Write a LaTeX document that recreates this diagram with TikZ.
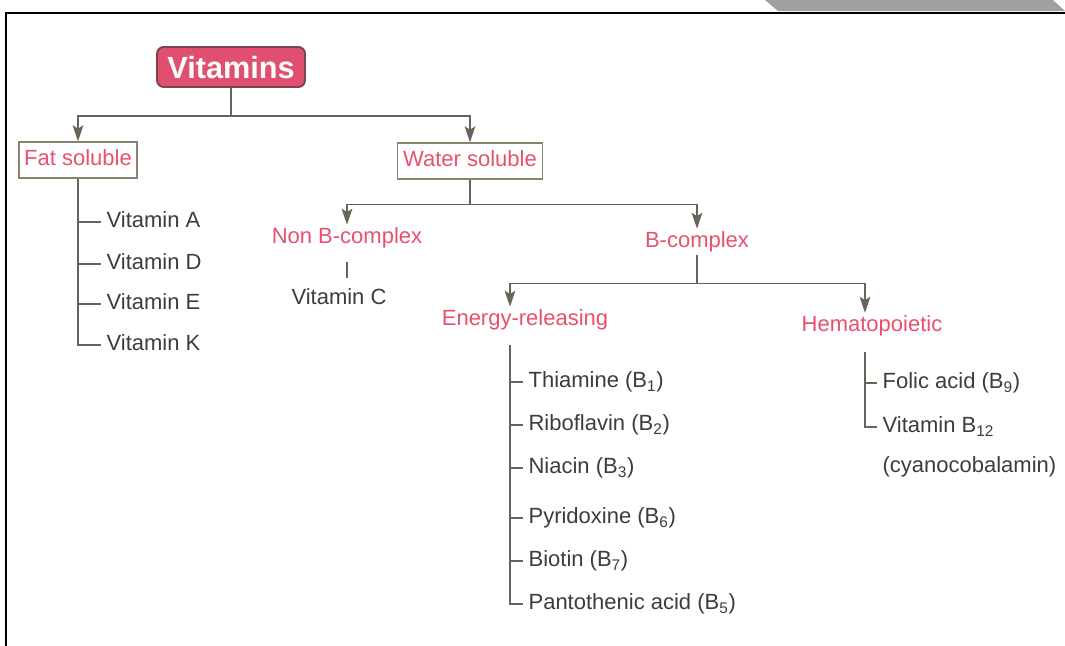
\documentclass[tikz,border=0pt]{standalone}
\usepackage{fontspec}
\setmainfont{Liberation Sans}
\usetikzlibrary{arrows.meta}
\definecolor{vitpink}{RGB}{232,80,110}
\definecolor{vitred}{RGB}{224,78,112}
\definecolor{vitdark}{RGB}{120,70,75}
\definecolor{linegray}{RGB}{105,100,90}
\definecolor{boxgray}{RGB}{140,128,110}
\definecolor{inkgray}{RGB}{62,60,57}
\definecolor{tabgray}{RGB}{160,160,160}

\begin{document}
\begin{tikzpicture}[x=0.75pt,y=-0.75pt,
  every node/.style={font=\fontsize{16.5}{19}\selectfont, text height=12pt, text depth=3.5pt, yshift=-1.5pt},
  root/.style={draw=vitdark, line width=1.4pt, fill=vitred, rounded corners=5pt, text=white,
    font=\fontsize{23}{26}\selectfont\bfseries, text height=17pt, text depth=0pt,
    minimum width=111pt, minimum height=30pt, inner sep=0pt, yshift=1.5pt},
  cat/.style={draw=boxgray, line width=1pt, text=vitpink, minimum height=27pt, inner xsep=4pt},
  sub/.style={text=vitpink, inner sep=2pt},
  item/.style={text=inkgray, anchor=west, inner xsep=4pt, inner ysep=2pt},
  link/.style={draw=linegray, line width=1.1pt},
  arr/.style={link, -{Stealth[length=12pt,width=8pt,inset=2.5pt]}}]

\useasboundingbox (0,0) rectangle (1065,646);

% page frame and tab
\fill[tabgray] (765,0) -- (1053,0) -- (1065,11) -- (778,11) -- cycle;
\draw[line width=2.2pt] (6,646) -- (6,13) -- (1065,13);

% main nodes
\node[root] (vit) at (231,67) {Vitamins};
\node[cat] (fat) at (78,158) {Fat soluble};
\node[cat] (water) at (470,159) {Water soluble};
\node[sub] (nonb) at (347,236) {Non B-complex};
\node[sub] (bcomp) at (697,240) {B-complex};
\node[sub] (energy) at (525,318) {Energy-releasing};
\node[sub] (hema) at (872,324) {Hematopoietic};
\node[item, anchor=center] (vitc) at (339,297) {Vitamin C};

% fat soluble list
\foreach \n/\t/\y in {va/Vitamin A/220, vd/Vitamin D/262, ve/Vitamin E/302, vk/Vitamin K/343}
  \node[item] (\n) at (101,\y) {\t};

% energy-releasing list
\foreach \n/\t/\y in {thia/{Thiamine (B\textsubscript{1})}/380,
                      ribo/{Riboflavin (B\textsubscript{2})}/423,
                      nia/{Niacin (B\textsubscript{3})}/466,
                      pyri/{Pyridoxine (B\textsubscript{6})}/516,
                      bio/{Biotin (B\textsubscript{7})}/559,
                      panto/{Pantothenic acid (B\textsubscript{5})}/602}
  \node[item] (\n) at (523,\y) {\t};

% hematopoietic list
\node[item] (folic) at (877,381) {Folic acid (B\textsubscript{9})};
\node[item] (b12) at (877,425) {Vitamin B\textsubscript{12}};
\node[item] (cyano) at (877,465) {(cyanocobalamin)};

% branches
\path (vit.south) ++(0,26) coordinate (b1);
\draw[link] (vit.south) -- (b1);
\draw[arr] (b1) -| (fat.north);
\draw[arr] (b1) -| (water.north);

\path (water.south) ++(0,23) coordinate (b2);
\draw[link] (water.south) -- (b2);
\draw[arr] (b2) -| (nonb.north);
\draw[arr] (b2) -| (bcomp.north);

\path (bcomp.south) ++(0,26) coordinate (b3);
\coordinate (etop) at (510,343);
\coordinate (htop) at (865,350);
\draw[link] (bcomp.south) -- (b3);
\draw[arr] (b3) -| (etop |- energy.north);
\draw[arr] (b3) -| (htop |- hema.north);

\draw[link, shorten <=8pt, shorten >=6pt] (nonb.south) -- (nonb.south |- vitc.north);

% list ticks
\foreach \n in {va,vd,ve}
  \draw[link] (fat.south |- \n.west) -- (\n.west);
\draw[link] (fat.south) |- (vk.west);

\foreach \n in {thia,ribo,nia,pyri,bio}
  \draw[link] (etop |- \n.west) -- (\n.west);
\draw[link] (etop) |- (panto.west);

\draw[link] (htop |- folic.west) -- (folic.west);
\draw[link] (htop) |- (b12.west);

\end{tikzpicture}
\end{document}
